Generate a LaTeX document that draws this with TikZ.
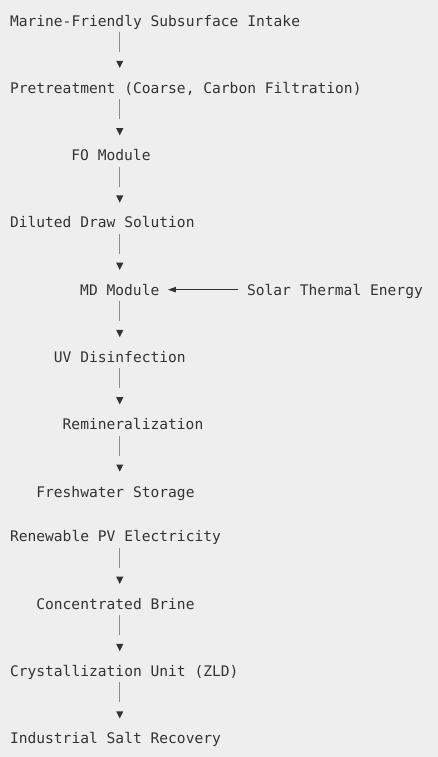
\documentclass[tikz,border=0pt]{standalone}
\usepackage{fontspec}
\usetikzlibrary{calc,arrows.meta}
\newfontfamily\dmono{DejaVu Sans Mono}[Scale=1]
\definecolor{bgc}{HTML}{EEEEEE}
\definecolor{ink}{HTML}{333333}
\definecolor{barc}{HTML}{8C8C8C}
\definecolor{tipc}{HTML}{333333}
\newcommand\vlink[2]{%
  \draw[barline] ($(#1.base -| spine)+(0,6)$) -- ($(#2.base -| spine)+(0,-41.3)$);
  \fill[tipc] ($(#2.base -| spine)+(-3.6,-32.5)$) -- ($(#2.base -| spine)+(3.6,-32.5)$) -- ($(#2.base -| spine)+(0,-25.3)$) -- cycle;}
\begin{document}
\begin{tikzpicture}[x=0.75pt,y=-0.75pt,
  txt/.style={anchor=base west, inner sep=0pt, outer sep=0pt, font={\dmono\fontsize{10.95pt}{13pt}\selectfont}, text=ink},
  barline/.style={draw=barc, line width=1.1pt},
  hline/.style={draw=ink, line width=0.8pt, -{Triangle[length=6pt,width=4pt]}}]
\fill[bgc] (0,0) rectangle (438,757);
\useasboundingbox (0,0) rectangle (438,757);
\coordinate (spine) at (119.75,0);
\node[txt] (intake) at (10,26) {Marine-Friendly Subsurface Intake};
\node[txt] (pre) at (10,93.29) {Pretreatment (Coarse, Carbon Filtration)};
\node[txt] (fo) at (71.46,160.58) {FO Module};
\node[txt] (draw) at (10,227.87) {Diluted Draw Solution};
\node[txt] (md) at (80.24,295.16) {MD Module};
\node[txt] (solar) at (247.06,295.16) {Solar Thermal Energy};
\node[txt] (uv) at (53.9,362.45) {UV Disinfection};
\node[txt] (remin) at (62.68,429.74) {Remineralization};
\node[txt] (fresh) at (36.34,497.03) {Freshwater Storage};
\node[txt] (pv) at (10,541.89) {Renewable PV Electricity};
\node[txt] (brine) at (36.34,609.18) {Concentrated Brine};
\node[txt] (cryst) at (10,676.47) {Crystallization Unit (ZLD)};
\node[txt] (salt) at (10,743.76) {Industrial Salt Recovery};
\vlink{intake}{pre}
\vlink{pre}{fo}
\vlink{fo}{draw}
\vlink{draw}{md}
\vlink{md}{uv}
\vlink{uv}{remin}
\vlink{remin}{fresh}
\vlink{pv}{brine}
\vlink{brine}{cryst}
\vlink{cryst}{salt}
\draw[hline] ($(solar.base west)+(-9,-5.5)$) -- ($(md.base east)+(8.5,-5.5)$);
\end{tikzpicture}
\end{document}
